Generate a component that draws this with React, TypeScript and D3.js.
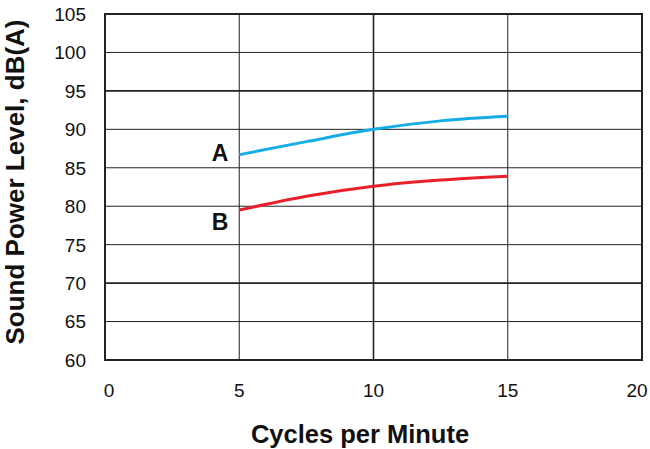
import React from "react";
import * as d3 from "d3";

const xTicks = [0, 5, 10, 15, 20];
const yTicks = [60, 65, 70, 75, 80, 85, 90, 95, 100, 105];
const cycles = [5, 7.5, 10, 12.5, 15];
const seriesA = [86.7, 88.4, 90.0, 91.1, 91.7];
const seriesB = [79.5, 81.3, 82.6, 83.4, 83.9];
const seriesNames = ["A", "B"];
const seriesLabelY = [87.0, 78.0];

export default function App() {
  const W = 650, H = 449;
  const left = 105, right = 642, top = 14, bottom = 360;
  const x = d3.scaleLinear().domain([0, 20]).range([left, right]);
  const y = d3.scaleLinear().domain([60, 105]).range([bottom, top]);
  const line = d3
    .line<number>()
    .x((_, i) => x(cycles[i]))
    .y((d) => y(d))
    .curve(d3.curveMonotoneX);
  const font = "'Liberation Sans', Arial, Helvetica, sans-serif";
  const tickShift = (t: number) => (t === 0 ? 4 : t === 20 ? -5 : 0);
  return (
    <svg width={W} height={H} style={{ position: "absolute", left: 0, top: 0 }} fontFamily={font}>
      <rect x={0} y={0} width={W} height={H} fill="#fff" />
      {yTicks.slice(1, -1).map((t) => (
        <line key={"gy" + t} x1={left} x2={right} y1={y(t)} y2={y(t)} stroke="#222" strokeWidth={t === 95 || t === 70 ? 1.6 : 1} />
      ))}
      {xTicks.slice(1, -1).map((t) => (
        <line key={"gx" + t} x1={x(t)} x2={x(t)} y1={top} y2={bottom} stroke="#222" strokeWidth={t === 10 ? 1.6 : 1} />
      ))}
      <rect x={left} y={top} width={right - left} height={bottom - top} fill="none" stroke="#222" strokeWidth={2} />
      <path d={line(seriesA) || ""} fill="none" stroke="#16ade6" strokeWidth={3} />
      <path d={line(seriesB) || ""} fill="none" stroke="#e8202a" strokeWidth={3} />
      {yTicks.map((t) => (
        <text key={"ty" + t} x={86} y={y(t)} dy="0.36em" textAnchor="end" fontSize={19} fill="#111">{t}</text>
      ))}
      {xTicks.map((t) => (
        <text key={"tx" + t} x={x(t) + tickShift(t)} y={397} textAnchor="middle" fontSize={19} fill="#111">{t}</text>
      ))}
      {seriesNames.map((n, i) => (
        <text key={n} x={220} y={y(seriesLabelY[i])} dy="0.36em" textAnchor="middle" fontSize={23} fontWeight="bold" fill="#111">{n}</text>
      ))}
      <text x={360} y={443} textAnchor="middle" fontSize={25.5} fontWeight="bold" fill="#111">Cycles per Minute</text>
      <text transform={`translate(23.5,182) rotate(-90)`} textAnchor="middle" fontSize={26} fontWeight="bold" fill="#111">Sound Power Level, dB(A)</text>
    </svg>
  );
}
